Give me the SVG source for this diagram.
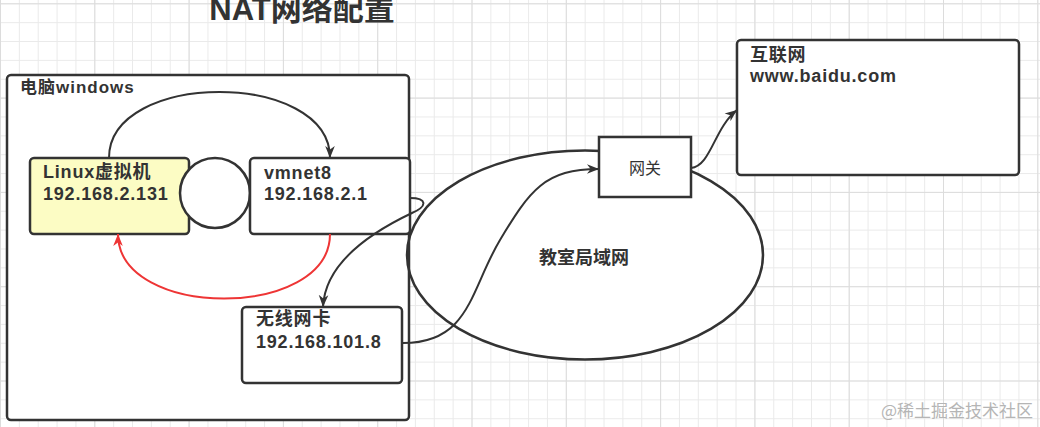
<svg xmlns="http://www.w3.org/2000/svg" width="1040" height="427" viewBox="0 0 1040 427">
<defs>
<pattern id="gMinor" width="18.86" height="18.86" patternUnits="userSpaceOnUse" x="0" y="3.3"><path d="M0 0.5H18.86M0.5 0V18.86" stroke="#eaeaea" stroke-width="1" fill="none"/></pattern>
<pattern id="gMajor" width="94.3" height="94.3" patternUnits="userSpaceOnUse" x="0" y="3.3"><path d="M0 0.5H94.3M0.5 0V94.3" stroke="#dcdcdc" stroke-width="1" fill="none"/></pattern>
<marker id="arrow" viewBox="0 0 10 8" refX="10" refY="4" markerWidth="12" markerHeight="10" markerUnits="userSpaceOnUse" orient="auto"><path d="M0,0 L10,4 L0,8 L3,4 z" fill="#333"/></marker>
<marker id="arrowRed" viewBox="0 0 10 8" refX="10" refY="4" markerWidth="12" markerHeight="10" markerUnits="userSpaceOnUse" orient="auto"><path d="M0,0 L10,4 L0,8 L3,4 z" fill="#ee3535"/></marker>
<style>
.box{fill:#fff;stroke:#333;stroke-width:2.5}
.t{font-family:"Liberation Sans","Noto Sans CJK SC",sans-serif;font-weight:bold;font-size:18px;fill:#333;letter-spacing:0.8px}
.c{fill:none;stroke:#333;stroke-width:2}
</style>
</defs>
<rect width="1040" height="427" fill="#fff"/>
<rect width="1040" height="427" fill="url(#gMinor)"/>
<rect width="1040" height="427" fill="url(#gMajor)"/>

<text x="302" y="20" text-anchor="middle" style="font-family:'Liberation Sans','Noto Sans CJK SC',sans-serif;font-weight:bold;font-size:31px;fill:#333">NAT网络配置</text>

<g id="pc">
<rect x="7" y="75" width="402" height="345" rx="4" fill="#fff"/>
</g>

<g id="lan">
<ellipse cx="585" cy="255" rx="178" ry="104.5" class="box" stroke-width="2"/>
<text x="584" y="264" text-anchor="middle" class="t" style="letter-spacing:0">教室局域网</text>
</g>

<g id="pc-outline">
<rect x="7" y="75" width="402" height="345" rx="4" fill="none" stroke="#333" stroke-width="2.5"/>
<text x="20" y="93" class="t" style="font-size:17px;letter-spacing:1px">电脑windows</text>
</g>

<g id="linux">
<rect x="30" y="158" width="159" height="76" rx="4" class="box" style="fill:#fcfcc4"/>
<text x="43" y="178" class="t">Linux虚拟机</text>
<text x="43" y="200" class="t">192.168.2.131</text>
</g>

<g id="switch">
<circle cx="215" cy="193" r="35" class="box" stroke-width="2"/>
</g>

<g id="vmnet8">
<rect x="250" y="158" width="160" height="76" rx="4" class="box"/>
<text x="264" y="179" class="t">vmnet8</text>
<text x="264" y="200" class="t">192.168.2.1</text>
</g>

<g id="wifi">
<rect x="242" y="307" width="160" height="76" rx="4" class="box"/>
<text x="256" y="325" class="t">无线网卡</text>
<text x="256" y="348" class="t">192.168.101.8</text>
</g>

<g id="gateway">
<rect x="599" y="137" width="92" height="60" class="box"/>
<text x="645" y="174" text-anchor="middle" class="t" style="font-weight:normal;font-size:16px;letter-spacing:0">网关</text>
</g>

<g id="internet">
<rect x="737" y="40" width="282" height="135" rx="4" class="box"/>
<text x="750" y="61" class="t">互联网</text>
<text x="750" y="82" class="t">www.baidu.com</text>
</g>

<g id="connectors">
<path d="M109,158 C109,70 330,70 330,158" class="c" marker-end="url(#arrow)"/>
<path d="M330,234 C330,320 118,320 118,234" class="c" style="stroke:#ee3535" marker-end="url(#arrowRed)"/>
<path d="M410,198 C427,198 428,206 412,213 C372,232 325,262 323,307" class="c" marker-end="url(#arrow)"/>
<path d="M403,343 C470,343 470,290 500,240 C530,190 545,169 599,169" class="c" marker-end="url(#arrow)"/>
<path d="M691,168 C711,166 714,128 737,110" class="c" marker-end="url(#arrow)"/>
</g>

<text x="1033" y="417" text-anchor="end" style="font-family:'Noto Sans CJK SC',sans-serif;font-size:17px;fill:#b5b5b5">@稀土掘金技术社区</text>
</svg>
